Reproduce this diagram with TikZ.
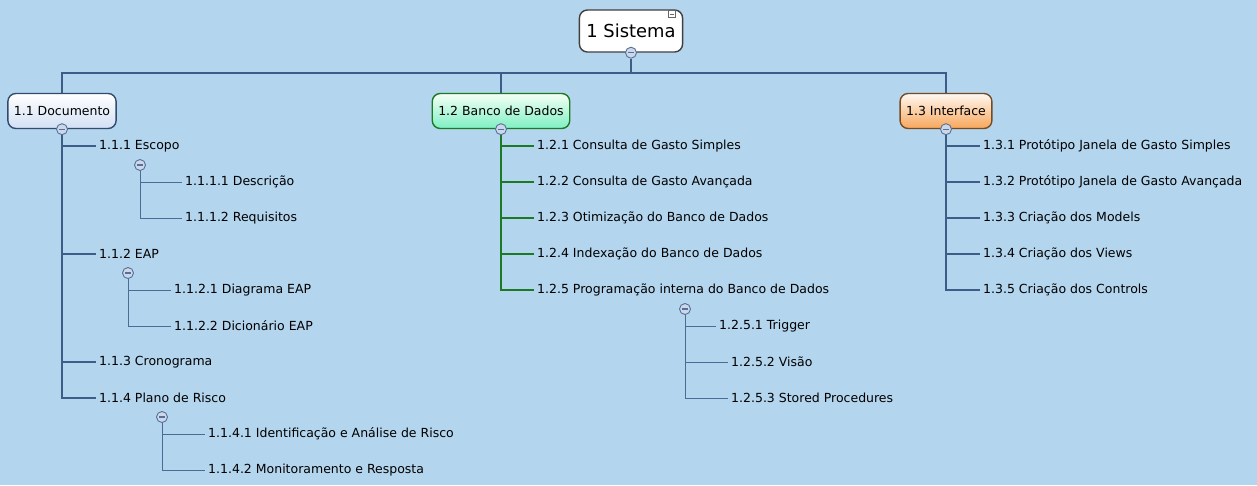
\documentclass[tikz,border=0pt]{standalone}
\usepackage{fontspec}
\setmainfont{DejaVu Sans}
\usetikzlibrary{arrows}
\definecolor{mapbg}{HTML}{B4D5EE}
\definecolor{branch}{HTML}{3D5C88}
\definecolor{twigline}{HTML}{4C6C98}
\definecolor{dbgreen}{HTML}{1C7A24}
\definecolor{foldfill}{HTML}{CCD8E8}
\definecolor{foldline}{HTML}{55709A}
\definecolor{docfill}{HTML}{D2E0F4}
\definecolor{dbfill}{HTML}{7EF0C4}
\definecolor{uifill}{HTML}{F8A65A}

\begin{document}
\begin{tikzpicture}[x=1pt,y=-1pt,
  topic/.style={draw,rounded corners=8pt,minimum height=35pt,inner xsep=6pt,line width=1.4pt,font=\fontsize{12.5}{14}\selectfont},
  leaf/.style={anchor=west,inner sep=3pt,font=\fontsize{12.5}{14}\selectfont},
  fold/.style={circle,draw=foldline,fill=foldfill,line width=0.9pt,minimum size=11pt,inner sep=0pt,
    path picture={\draw[foldline,line width=1.1pt] ([xshift=-2.8pt]path picture bounding box.center) -- ([xshift=2.8pt]path picture bounding box.center);}},
  elbow/.style={to path={|- (\tikztotarget)}},
  drop/.style={to path={-| (\tikztotarget)}},
  trunk/.style={draw=branch,line width=2pt},
  twig/.style={draw=twigline,line width=1pt}]
  \fill[mapbg] (0,0) rectangle (1257,485);
  \useasboundingbox (0,0) rectangle (1257,485);

  % main topics
  \node[topic,draw=black!75,fill=white,minimum height=42pt,inner xsep=7pt,font=\fontsize{17.9}{20}\selectfont] (sys) at (631,31) {1 Sistema};
  \node[draw=black!60,fill=white,line width=0.5pt,minimum size=7pt,inner sep=0pt,
    path picture={\draw[black!60,line width=0.6pt] ([xshift=-2pt]path picture bounding box.center) -- ([xshift=2pt]path picture bounding box.center);}] (sysicon) at (672,14) {};
  \node[topic,draw=branch!80!black,top color=white,bottom color=docfill] (doc) at (62,111) {1.1 Documento};
  \node[topic,draw=dbgreen,top color=green!4,bottom color=dbfill] (db) at (501,111) {1.2 Banco de Dados};
  \node[topic,draw=brown!60!black,top color=orange!5,bottom color=uifill] (ui) at (946,111) {1.3 Interface};

  \node[fold] (fsys) at (sys.south) {};
  \node[fold] (fdoc) at (doc.south) {};
  \node[fold] (fdb) at (db.south) {};
  \node[fold] (fui) at (ui.south) {};
  \coordinate (bus) at (631,73);

  % 1.1 Documento
  \node[leaf] (t111) at (96,146) {1.1.1 Escopo};
  \node[fold] (f111) at (140,165) {};
  \node[leaf] (t1111) at (182,182) {1.1.1.1 Descrição};
  \node[leaf] (t1112) at (182,218) {1.1.1.2 Requisitos};
  \node[leaf] (t112) at (96,254) {1.1.2 EAP};
  \node[fold] (f112) at (128,273) {};
  \node[leaf] (t1121) at (171,290) {1.1.2.1 Diagrama EAP};
  \node[leaf] (t1122) at (171,326) {1.1.2.2 Dicionário EAP};
  \node[leaf] (t113) at (96,362) {1.1.3 Cronograma};
  \node[leaf] (t114) at (96,398) {1.1.4 Plano de Risco};
  \node[fold] (f114) at (162,417) {};
  \node[leaf] (t1141) at (205,434) {1.1.4.1 Identificação e Análise de Risco};
  \node[leaf] (t1142) at (205,470) {1.1.4.2 Monitoramento e Resposta};

  % 1.2 Banco de Dados
  \node[leaf] (t121) at (534,146) {1.2.1 Consulta de Gasto Simples};
  \node[leaf] (t122) at (534,182) {1.2.2 Consulta de Gasto Avançada};
  \node[leaf] (t123) at (534,218) {1.2.3 Otimização do Banco de Dados};
  \node[leaf] (t124) at (534,254) {1.2.4 Indexação do Banco de Dados};
  \node[leaf] (t125) at (534,290) {1.2.5 Programação interna do Banco de Dados};
  \node[fold] (f125) at (685,309) {};
  \node[leaf] (t1251) at (716,326) {1.2.5.1 Trigger};
  \node[leaf] (t1252) at (728,362) {1.2.5.2 Visão};
  \node[leaf] (t1253) at (728,398) {1.2.5.3 Stored Procedures};

  % 1.3 Interface
  \node[leaf] (t131) at (980,146) {1.3.1 Protótipo Janela de Gasto Simples};
  \node[leaf] (t132) at (980,182) {1.3.2 Protótipo Janela de Gasto Avançada};
  \node[leaf] (t133) at (980,218) {1.3.3 Criação dos Models};
  \node[leaf] (t134) at (980,254) {1.3.4 Criação dos Views};
  \node[leaf] (t135) at (980,290) {1.3.5 Criação dos Controls};

\path[trunk]
  (fsys.south) edge (bus)
  (bus) edge[drop] (doc)
  (bus) edge[drop] (db)
  (bus) edge[drop] (ui)
  (fdoc.south) edge[elbow] (t111)
  (fdoc.south) edge[elbow] (t112)
  (fdoc.south) edge[elbow] (t113)
  (fdoc.south) edge[elbow] (t114)
  (fui.south) edge[elbow] (t131)
  (fui.south) edge[elbow] (t132)
  (fui.south) edge[elbow] (t133)
  (fui.south) edge[elbow] (t134)
  (fui.south) edge[elbow] (t135)
;
\path[trunk,draw=dbgreen]
  (fdb.south) edge[elbow] (t121)
  (fdb.south) edge[elbow] (t122)
  (fdb.south) edge[elbow] (t123)
  (fdb.south) edge[elbow] (t124)
  (fdb.south) edge[elbow] (t125)
;
\path[twig]
  (f111.south) edge[elbow] (t1111)
  (f111.south) edge[elbow] (t1112)
  (f112.south) edge[elbow] (t1121)
  (f112.south) edge[elbow] (t1122)
  (f114.south) edge[elbow] (t1141)
  (f114.south) edge[elbow] (t1142)
  (f125.south) edge[elbow] (t1251)
  (f125.south) edge[elbow] (t1252)
  (f125.south) edge[elbow] (t1253)
;
\end{tikzpicture}
\end{document}
